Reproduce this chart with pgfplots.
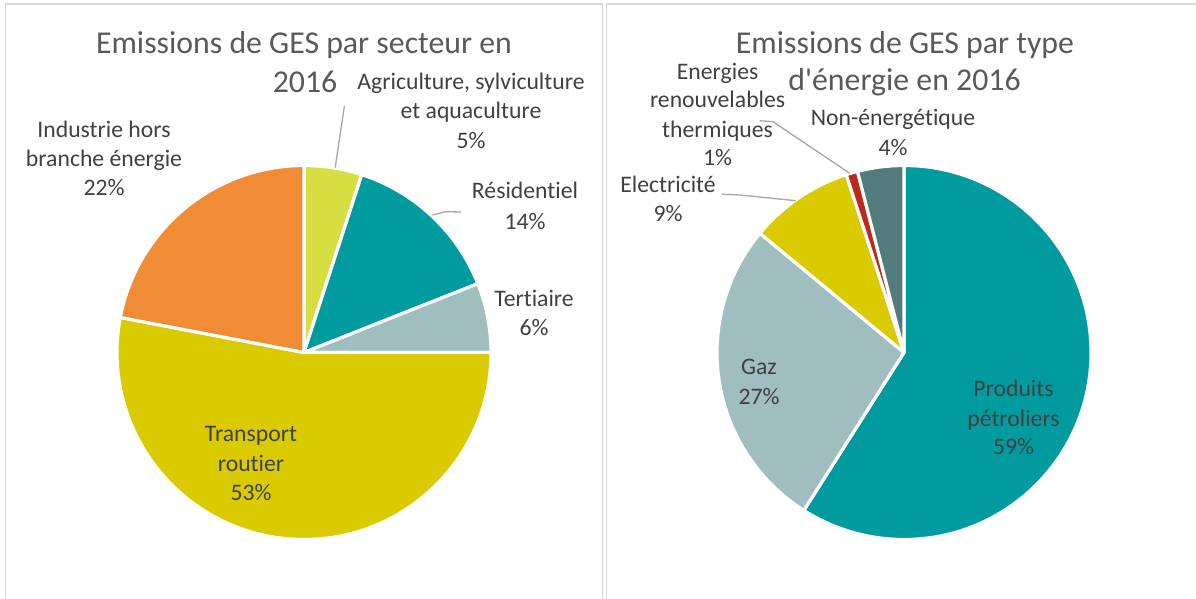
\documentclass[border=0pt]{standalone}
\usepackage{pgfplots}
\usepackage{pgfplotstable}
\pgfplotsset{compat=1.18}
\usepackage{fontspec}
\setmainfont{Carlito}[Ligatures={TeX,NoCommon}]

\definecolor{secA0}{RGB}{215,222,66}
\definecolor{secA1}{RGB}{0,155,158}
\definecolor{secA2}{RGB}{160,190,192}
\definecolor{secA3}{RGB}{218,202,0}
\definecolor{secA4}{RGB}{240,139,54}
\definecolor{nrgB0}{RGB}{0,155,158}
\definecolor{nrgB1}{RGB}{160,190,192}
\definecolor{nrgB2}{RGB}{218,202,0}
\definecolor{nrgB3}{RGB}{192,40,30}
\definecolor{nrgB4}{RGB}{82,124,124}
\definecolor{titlec}{RGB}{89,89,89}
\definecolor{labc}{RGB}{64,64,64}
\definecolor{leadc}{RGB}{166,166,166}
\definecolor{framec}{RGB}{217,217,217}

% clockwise from 12 o'clock
\pgfplotstableread{
value
5
14
6
53
22
}\secteur
\pgfplotstableread{
value
59
27
9
1
4
}\energie

\newcommand{\drawpie}[2]{%
  \pgfplotstablegetrowsof{#1}%
  \pgfmathtruncatemacro{\npie}{\pgfplotsretval-1}%
  \def\piecum{0}%
  \pgfplotsforeachungrouped \i in {0,...,\npie}{%
    \pgfplotstablegetelem{\i}{value}\of{#1}%
    \let\pieval\pgfplotsretval
    \pgfmathsetmacro{\pa}{90-3.6*\piecum}%
    \pgfmathsetmacro{\pb}{90-3.6*(\piecum+\pieval)}%
    \pgfmathsetmacro{\piecum}{\piecum+\pieval}%
    \edef\piecmd{\noexpand\filldraw[fill=#2\i, draw=white, line width=3.2pt, line join=round] (axis cs:0,0) -- ++(\pa:187pt) arc[start angle=\pa, end angle=\pb, radius=187pt] -- cycle;}%
    \piecmd
  }%
}

\tikzset{
  ttl/.style={anchor=base, text=titlec, font=\fontsize{31.8}{38}\selectfont, inner sep=0pt},
  lab/.style={anchor=base, text=labc, font=\fontsize{23.7}{28}\selectfont, inner sep=0pt},
  lead/.style={draw=leadc, line width=1.3pt}
}

\begin{document}
\begin{tikzpicture}
\useasboundingbox (0,0) rectangle (1196pt,598pt);
% frames
\draw[framec, line width=1.3pt] (5.5pt,-5pt) -- (5.5pt,594pt) -- (602.5pt,594pt) -- (602.5pt,-5pt);
\draw[framec, line width=1.3pt] (606.5pt,-5pt) -- (606.5pt,594pt) -- (1205pt,594pt);

\begin{axis}[at={(304pt,245.5pt)}, anchor=center, x=186pt, y=186pt,
  xmin=-1.2, xmax=1.2, ymin=-1.2, ymax=1.2, hide axis, clip=false]
\drawpie{\secteur}{secA}
\end{axis}

\begin{axis}[at={(904pt,245.5pt)}, anchor=center, x=186pt, y=186pt,
  xmin=-1.2, xmax=1.2, ymin=-1.2, ymax=1.2, hide axis, clip=false]
\drawpie{\energie}{nrgB}
\end{axis}

% left chart texts
\node[ttl] at (304pt,544.9pt) {Emissions de GES par secteur en};
\node[ttl] at (305pt,505.7pt) {2016};
\node[lab] at (471pt,508.3pt) {Agriculture, sylviculture};
\node[lab] at (471pt,479.5pt) {et aquaculture};
\node[lab] at (471pt,449.9pt) {5\%};
\draw[lead] (344.4pt,492pt) -- (335.2pt,430.3pt);
\node[lab] at (104pt,460.4pt) {Industrie hors};
\node[lab] at (104pt,431.6pt) {branche énergie};
\node[lab] at (104pt,402pt) {22\%};
\node[lab] at (525pt,399pt) {Résidentiel};
\node[lab] at (525pt,368.9pt) {14\%};
\draw[lead] (461pt,386pt) -- (445.8pt,386.3pt) -- (432.4pt,383pt);
\node[lab] at (534pt,292pt) {Tertiaire};
\node[lab] at (534pt,263pt) {6\%};
\node[lab] at (251pt,156.3pt) {Transport};
\node[lab] at (251pt,126.3pt) {routier};
\node[lab] at (251pt,97.3pt) {53\%};

% right chart texts
\node[ttl] at (905pt,544.9pt) {Emissions de GES par type};
\node[ttl] at (904.5pt,507pt) {d\textquotesingle énergie en 2016};
\node[lab] at (717.6pt,518.7pt) {Energies};
\node[lab] at (717.6pt,490pt) {renouvelables};
\node[lab] at (717.6pt,460.8pt) {thermiques};
\node[lab] at (717.6pt,432.5pt) {1\%};
\draw[lead] (759.6pt,477.3pt) -- (773pt,476.3pt) -- (849.7pt,424.7pt);
\node[lab] at (893pt,472.2pt) {Non-énergétique};
\node[lab] at (893pt,442.4pt) {4\%};
\node[lab] at (668pt,405.5pt) {Electricité};
\node[lab] at (668pt,376.7pt) {9\%};
\draw[lead] (721.6pt,403.7pt) -- (740pt,403pt) -- (795.7pt,397.3pt);
\node[lab] at (759pt,224pt) {Gaz};
\node[lab] at (759pt,194pt) {27\%};
\node[lab] at (1013.5pt,201.3pt) {Produits};
\node[lab] at (1013.5pt,172pt) {pétroliers};
\node[lab] at (1013.5pt,143.7pt) {59\%};
\end{tikzpicture}
\end{document}
